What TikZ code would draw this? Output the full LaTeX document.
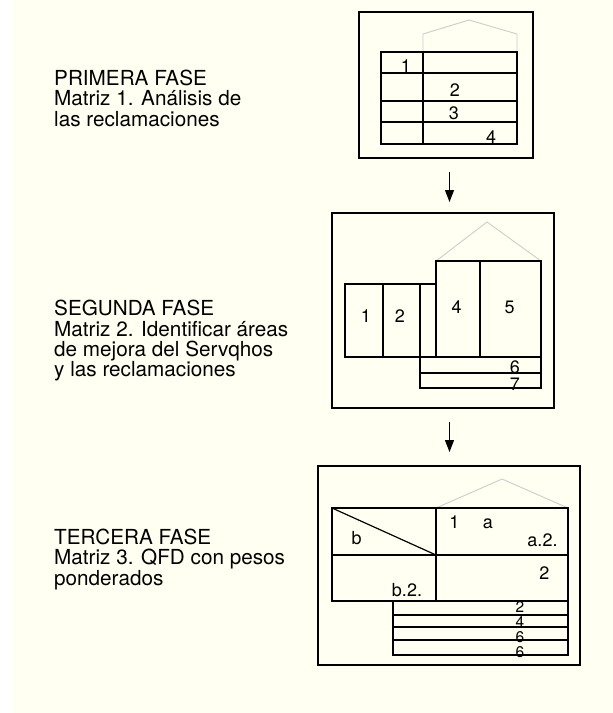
\documentclass[tikz,border=0pt]{standalone}
\usepackage{fontspec}
\setmainfont{TeX Gyre Heros}
\usetikzlibrary{arrows.meta}
\definecolor{cream}{RGB}{255,255,242}
\definecolor{roofgray}{RGB}{205,205,205}

\begin{document}
\begin{tikzpicture}[x=1pt, y=-1pt, frame/.style={draw, line width=1.2pt}, cell/.style={draw, line width=1.2pt}, roof/.style={draw=roofgray, line width=0.9pt}, phase/.style={anchor=base west, align=left, inner sep=0pt, font=\fontsize{20.7}{20.3}\selectfont}, num/.style={inner sep=0pt, font=\fontsize{18}{18}\selectfont}, nb/.style={num, anchor=base}, small/.style={inner sep=0pt, font=\fontsize{15.5}{15.5}\selectfont}, flow/.style={-{Triangle[width=9pt, length=12pt]}, line width=1.2pt}]
            \useasboundingbox (0,0) rectangle (613,713);
            \fill[cream] (13,0) rectangle (613,713);
            % phase texts (base = last line)
            \node[phase] (fase1) at (54,126) {PRIMERA FASE\\Matriz 1. Análisis de\\las reclamaciones};
            \node[phase] (fase2) at (54,376.7) {SEGUNDA FASE\\Matriz 2. Identificar áreas\\de mejora del Servqhos\\y las reclamaciones};
            \node[phase] (fase3) at (54,585) {TERCERA FASE\\Matriz 3. QFD con pesos\\ponderados};
            % matriz 1
            \draw[frame] (359,12) rectangle (533,158);
            \draw[roof] (423,52) -- (423,34) -- (469,20) -- (517,34) -- (517,52);
            \draw[cell] (381,52) rectangle (517,144);
            \foreach \y in {73,101,122} \draw[cell] (381,\y) -- (517,\y);
            \draw[cell] (423,52) -- (423,144);
            \node[num] (m1a) at (406,66.3) {1};
            \node[num] (m1b) at (455,90) {2};
            \node[num] (m1c) at (454,113) {3};
            \node[num] (m1d) at (491,137.5) {4};
            % matriz 2
            \draw[frame] (332,213) rectangle (554,408);
            \draw[roof] (436,261) -- (487,222) -- (541,261);
            \draw[cell] (345,284) rectangle (436,357);
            \foreach \x in {383,420} \draw[cell] (\x,284) -- (\x,357);
            \draw[cell] (436,261) rectangle (541,357);
            \draw[cell] (480,261) -- (480,357);
            \draw[cell] (420,357) rectangle (541,388);
            \draw[cell] (420,373) -- (541,373);
            \node[num] (m2a) at (366,316) {1};
            \node[num] (m2b) at (400,316) {2};
            \node[num] (m2c) at (456.7,307.5) {4};
            \node[num] (m2d) at (509.7,307.5) {5};
            \node[num] (m2e) at (515,367.5) {6};
            \node[num] (m2f) at (515,384) {7};
            % matriz 3
            \draw[frame] (318,466) rectangle (580,665);
            \draw[roof] (436,508) -- (502,479) -- (568,508);
            \draw[cell] (332,508) rectangle (568,601);
            \draw[cell] (332,555) -- (568,555);
            \draw[cell] (436,508) -- (436,601);
            \draw[cell] (332,508) -- (436,555);
            \draw[cell] (393,601) rectangle (568,655);
            \foreach \y in {615,627,640} \draw[cell] (393,\y) -- (568,\y);
            \node[nb] (m3a) at (454.5,528.3) {1};
            \node[nb] (m3b) at (488,528.3) {a};
            \node[nb] (m3c) at (356.7,544.3) {b};
            \node[nb] (m3d) at (542.5,546.7) {a.2.};
            \node[nb] (m3e) at (544.5,579) {2};
            \node[nb] (m3f) at (407,596.7) {b.2.};
            \node[small] (m3g) at (520,607) {2};
            \node[small] (m3h) at (520,622) {4};
            \node[small] (m3i) at (520,636.7) {6};
            \node[small] (m3j) at (520,651.7) {6};
            % arrows
            \coordinate (f1) at (449.5,172);
            \coordinate (f2) at (449.5,202);
            \coordinate (f3) at (449.5,422);
            \coordinate (f4) at (449.5,452);
            \draw[flow] (f1) -- (f2);
            \draw[flow] (f3) -- (f4);
        \end{tikzpicture}
\end{document}
